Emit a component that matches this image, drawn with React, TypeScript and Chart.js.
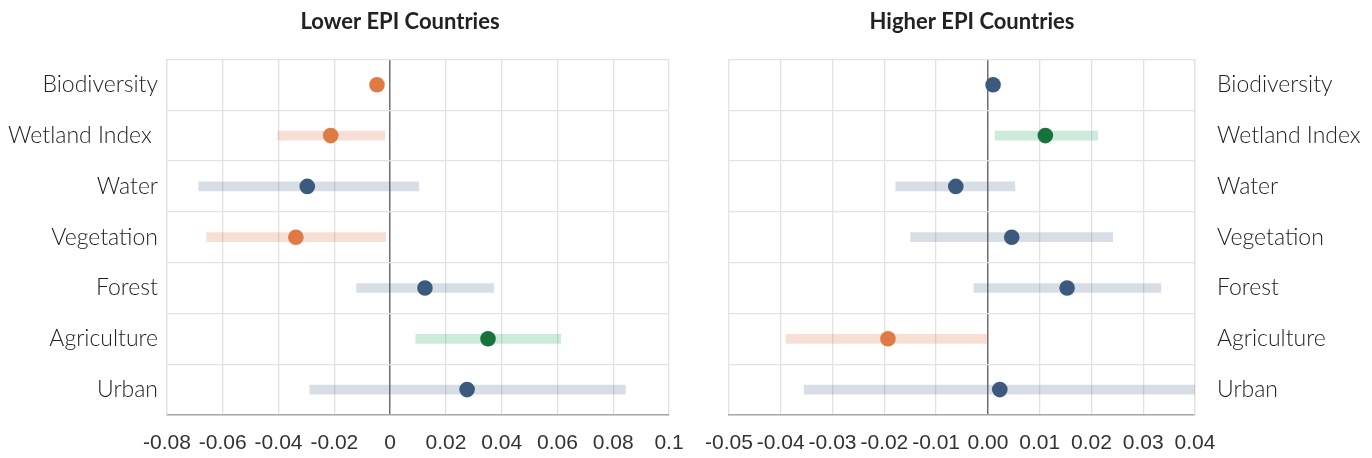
import React, { useEffect, useRef } from "react";
import { Chart, registerables } from "chart.js";

Chart.register(...registerables);

const categories = ["Biodiversity", "Wetland Index ", "Water", "Vegetation", "Forest", "Agriculture", "Urban"];

const lowerTitle = "Lower EPI Countries";
const lowerEstimate = [-0.0047, -0.0213, -0.0297, -0.0338, 0.0125, 0.0351, 0.0276];
const lowerCiLow = [null, -0.0403, -0.0686, -0.0658, -0.012, 0.0092, -0.0288];
const lowerCiHigh = [null, -0.0019, 0.0103, -0.0016, 0.0371, 0.0612, 0.0844];
const lowerGroup = ["neg", "neg", "ns", "neg", "ns", "pos", "ns"];
const lowerTickLabels = ["-0.08", "-0.06", "-0.04", "-0.02", "0", "0.02", "0.04", "0.06", "0.08", "0.1"];

const higherTitle = "Higher EPI Countries";
const higherEstimate = [0.001, 0.0111, -0.0062, 0.0046, 0.0153, -0.0193, 0.0023];
const higherCiLow = [null, 0.0014, -0.0178, -0.0149, -0.0027, -0.039, -0.0355];
const higherCiHigh = [null, 0.0212, 0.0052, 0.0241, 0.0334, -0.0001, 0.047];
const higherGroup = ["ns", "pos", "ns", "ns", "ns", "neg", "ns"];
const higherTickLabels = ["-0.05", "-0.04", "-0.03", "-0.02", "-0.01", "0.00", "0.01", "0.02", "0.03", "0.04"];

const dotColors: Record<string, string> = { neg: "#E07A44", pos: "#17733B", ns: "#3B5A7D" };
const barColors: Record<string, string> = {
  neg: "rgba(224,110,70,0.22)",
  pos: "rgba(40,170,110,0.24)",
  ns: "rgba(59,90,125,0.2)",
};

type PanelCfg = {
  title: string;
  est: number[];
  lo: (number | null)[];
  hi: (number | null)[];
  grp: string[];
  ticks: string[];
  min: number;
  max: number;
  step: number;
  side: "left" | "right";
};

function Panel({ cfg, left }: { cfg: PanelCfg; left: number }) {
  const ref = useRef<HTMLCanvasElement | null>(null);
  useEffect(() => {
    if (!ref.current) return;
    const isLeft = cfg.side === "left";
    const ranges = cfg.lo.map((l, i) => (l === null || cfg.hi[i] === null ? null : [l, cfg.hi[i] as number]));
    const chart = new Chart(ref.current, {
      type: "bar",
      data: {
        labels: categories,
        datasets: [
          {
            type: "line",
            data: cfg.est,
            showLine: false,
            pointRadius: 7.8,
            pointHoverRadius: 7.8,
            pointBorderWidth: 0,
            pointBackgroundColor: cfg.grp.map((g) => dotColors[g]),
            order: 0,
          } as any,
          {
            type: "bar",
            data: ranges as any,
            backgroundColor: cfg.grp.map((g) => barColors[g]),
            barThickness: 9,
            borderWidth: 0,
            borderSkipped: false,
            order: 1,
          } as any,
        ],
      },
      options: {
        indexAxis: "y",
        responsive: false,
        animation: false,
        layout: { padding: { left: 0, right: 0, top: 0, bottom: 3 } },
        plugins: {
          legend: { display: false },
          tooltip: { enabled: false },
          title: {
            display: true,
            text: cfg.title,
            color: "#222",
            font: { family: "Lato", size: 22, weight: "bold" },
            padding: { top: 9, bottom: 24 },
          },
        },
        scales: {
          x: {
            type: "linear",
            min: cfg.min,
            max: cfg.max,
            ticks: {
              stepSize: cfg.step,
              autoSkip: false,
              maxRotation: 0,
              padding: 16,
              color: "#333",
              font: { family: "Liberation Sans", size: 21 },
              callback: (_v: any, i: number) => cfg.ticks[i],
            },
            grid: {
              drawTicks: false,
              color: (ctx: any) => (ctx.tick && Math.abs(ctx.tick.value) < 1e-9 ? "#6e6e6e" : "#e2e2e2"),
              lineWidth: (ctx: any) => (ctx.tick && Math.abs(ctx.tick.value) < 1e-9 ? 1.5 : 1.3),
            },
            border: { color: "#a8a8a8", width: 1.5 },
            afterFit: (scale: any) => {
              scale.height = 40;
            },
          },
          y: {
            type: "category",
            position: cfg.side,
            grid: { drawTicks: false, color: "#e2e2e2", lineWidth: 1.3, offset: true },
            border: { color: "#e2e2e2", width: 1.3 },
            ticks: {
              padding: isLeft ? 9 : 22,
              color: "#222",
              font: { family: "Lato", size: 23, weight: "300" },
            },
            afterFit: (scale: any) => {
              scale.width = isLeft ? 167 : 177;
            },
          },
          spacer: {
            type: "linear",
            axis: "y",
            position: isLeft ? "right" : "left",
            display: true,
            ticks: { display: false },
            grid: { display: false },
            border: { display: false },
            afterFit: (scale: any) => {
              scale.width = isLeft ? 131 : 157;
            },
          },
        },
      } as any,
    });
    return () => chart.destroy();
  }, [cfg]);
  return (
    <div style={{ position: "absolute", left, top: 0, width: 800, height: 458 }}>
      <canvas ref={ref} width={800} height={458} style={{ width: 800, height: 458, display: "block" }} />
    </div>
  );
}

const lowerCfg: PanelCfg = {
  title: lowerTitle,
  est: lowerEstimate,
  lo: lowerCiLow,
  hi: lowerCiHigh,
  grp: lowerGroup,
  ticks: lowerTickLabels,
  min: -0.08,
  max: 0.1,
  step: 0.02,
  side: "left",
};

const higherCfg: PanelCfg = {
  title: higherTitle,
  est: higherEstimate,
  lo: higherCiLow,
  hi: higherCiHigh,
  grp: higherGroup,
  ticks: higherTickLabels,
  min: -0.05,
  max: 0.04,
  step: 0.01,
  side: "right",
};

export default function App() {
  return (
    <div style={{ position: "fixed", left: 0, top: 0, width: 1372, height: 458, background: "#fff", overflow: "hidden" }}>
      <Panel cfg={lowerCfg} left={0} />
      <Panel cfg={higherCfg} left={572} />
    </div>
  );
}
